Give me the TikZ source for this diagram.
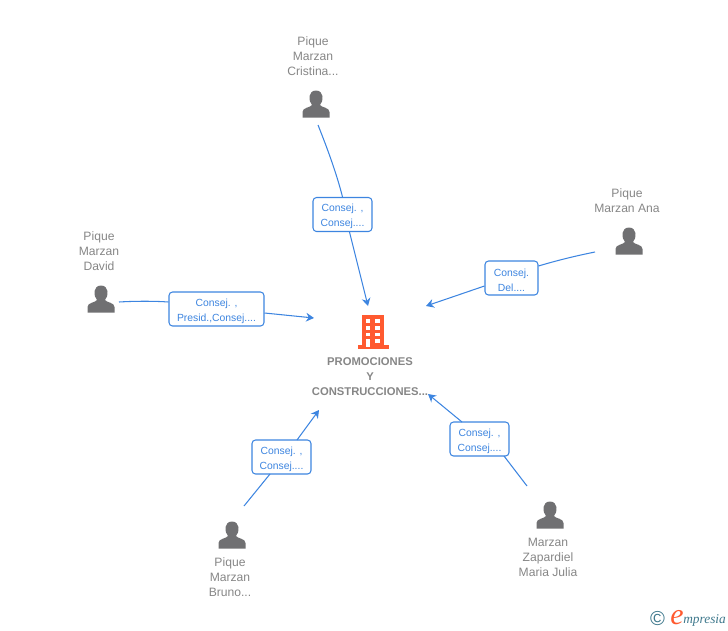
\documentclass[tikz,border=0pt]{standalone}
\usepackage{fontspec}
\setmainfont{Liberation Sans}
\newfontfamily\logofont{Liberation Serif}
\usetikzlibrary{positioning, arrows.meta}
\definecolor{slate}{RGB}{134,134,134}
\definecolor{iconc}{RGB}{112,112,114}
\definecolor{linkc}{RGB}{61,133,224}
\definecolor{towerc}{RGB}{255,90,48}
\definecolor{logoc}{RGB}{62,120,140}
\newcommand{\rolegap}{\rule{0pt}{6.6pt}}
\tikzset{
  persona/.pic={
    \fill[iconc] (-13.5,13.5) -- (-13.5,8) .. controls (-13.5,3.5) and (-5.5,3.5) .. (-4,1)
      .. controls (-8,-3) and (-8,-13.5) .. (0,-13.5)
      .. controls (8,-13.5) and (8,-3) .. (4,1)
      .. controls (5.5,3.5) and (13.5,3.5) .. (13.5,8) -- (13.5,13.5) -- cycle;
  },
  tower/.pic={
    \fill[towerc] (-11,-17) rectangle (11,13);
    \fill[towerc] (-15,13) rectangle (16,17);
    \foreach \y in {-13.2,-5.6,0.6} {
      \fill[white] (-7,\y) rectangle (-2.8,\y+3.8);
      \fill[white] (2.4,\y) rectangle (7.2,\y+3.8);
    }
    \fill[white] (-7,7.2) rectangle (-2.8,15);
    \fill[white] (2.4,7.2) rectangle (7.2,11);
  }
}
\begin{document}
\begin{tikzpicture}[x=0.02cm, y=-0.02cm,
  who/.style={align=center, font=\fontsize{6.9}{8.55}\selectfont, text=slate, inner sep=0pt},
  firm/.style={align=center, font=\fontsize{6.4}{8.55}\selectfont\bfseries, text=slate, inner sep=0pt},
  role/.style={draw=linkc, line width=0.6pt, rounded corners=2pt, fill=white, align=center, inner sep=0pt,
    font=\fontsize{5.9}{8.55}\selectfont, text=linkc, minimum height=0.68cm},
  link/.style={draw=linkc, line width=0.6pt},
  tip/.style={link, -{Stealth[length=4.5pt, width=5pt]}}]
\useasboundingbox (0,0) rectangle (728,630);
% company
\pic at (373,332) {tower};
\node[firm] (firm) at (370,377) {PROMOCIONES\\Y\\CONSTRUCCIONES...};
% people
\pic at (316,104) {persona};
\pic at (629,241) {persona};
\pic at (101,299) {persona};
\pic at (232,535) {persona};
\pic at (550,515) {persona};
\node[who] (cristina) at (313,56) {Pique\\Marzan\\Cristina...};
\node[who] (ana) at (627,200.5) {Pique\\Marzan Ana};
\node[who] (david) at (99,251) {Pique\\Marzan\\David};
\node[who] (bruno) at (230,577) {Pique\\Marzan\\Bruno...};
\node[who] (maria) at (548,557) {Marzan\\Zapardiel\\Maria Julia};
% roles
\node[role, minimum width=1.18cm] (rcristina) at (342.5,214.5) {\rolegap Consej. ,\\Consej....};
\node[role, minimum width=1.06cm] (rana) at (511.5,278) {\rolegap Consej.\\Del....};
\node[role, minimum width=1.9cm] (rdavid) at (216.5,309) {\rolegap Consej. ,\\Presid.,Consej....};
\node[role, minimum width=1.18cm] (rbruno) at (281.5,457) {\rolegap Consej. ,\\Consej....};
\node[role, minimum width=1.18cm] (rmaria) at (479.5,439) {\rolegap Consej. ,\\Consej....};
% free ends
\coordinate (scristina) at (318,125);
\coordinate (sana) at (595,252);
\coordinate (sdavid) at (119,302);
\coordinate (sbruno) at (244,506);
\coordinate (smaria) at (527,486);
\coordinate (ecristina) at (368,306);
\coordinate (eana) at (426,306);
\coordinate (edavid) at (314,318);
\coordinate (ebruno) at (319,410);
\coordinate (emaria) at (428,394);
% links
\draw[link] (scristina) .. controls (328,150) and (337,175) .. (rcristina.north);
\draw[tip] (rcristina.south) ++(7,0) -- (ecristina);
\draw[link] (sana) .. controls (575,256) and (555,261) .. (rana.east |- 0,266);
\draw[tip] (rana.west |- 0,286) -- (eana);
\draw[link] (sdavid) .. controls (135,301) and (155,301) .. (rdavid.west |- 0,302);
\draw[tip] (rdavid.east |- 0,313) -- (edavid);
\draw[link] (sbruno) -- (270,474);
\draw[tip] (297,440) -- (ebruno);
\draw[link] (smaria) -- (504,456);
\draw[tip] (462,422) -- (emaria);
% logo
\node[inner sep=0pt, text=logoc, font=\fontsize{11.5}{12}\selectfont] (copy) at (657.5,619) {©};
\node[inner sep=0pt, text=towerc, font=\logofont\itshape\fontsize{17}{17}\selectfont] (logoe) at (677,618) {e};
\node[inner sep=0pt, text=logoc, font=\logofont\itshape\fontsize{7.6}{8}\selectfont, anchor=west] (logo) at (683,620) {mpresia};
\end{tikzpicture}
\end{document}
